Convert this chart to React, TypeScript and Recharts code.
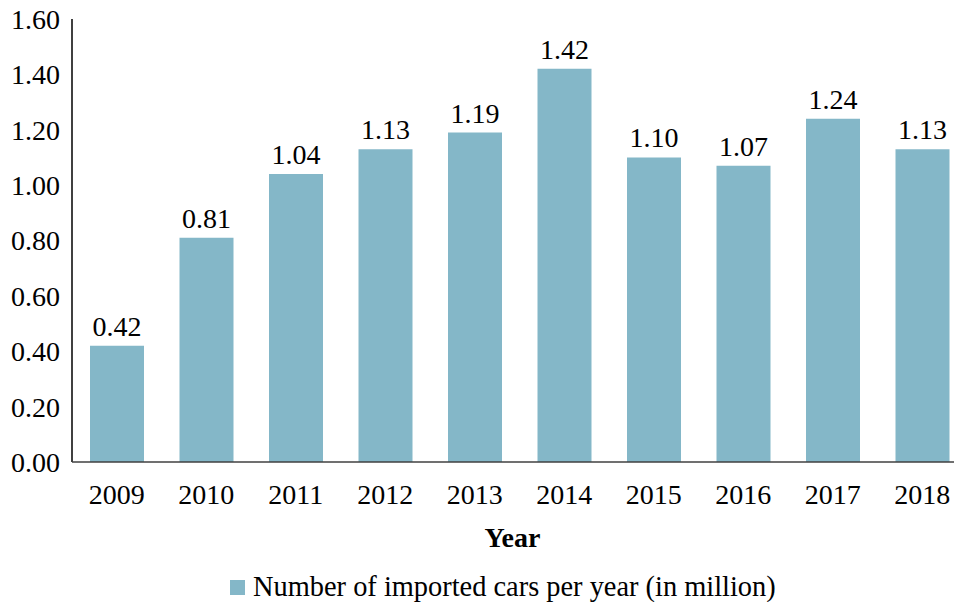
import React from 'react';
import { BarChart, Bar, XAxis, YAxis, Legend, LabelList, Label } from 'recharts';

// Imported cars per year, in million
const years = ['2009', '2010', '2011', '2012', '2013', '2014', '2015', '2016', '2017', '2018'];
const importedCars = [0.42, 0.81, 1.04, 1.13, 1.19, 1.42, 1.1, 1.07, 1.24, 1.13];
const yTicks = [0, 0.2, 0.4, 0.6, 0.8, 1.0, 1.2, 1.4, 1.6];

const SERIES_NAME = 'Number of imported cars per year (in million)';
const BAR_COLOR = '#84B7C8';
const FONT = '"Liberation Serif", "Times New Roman", serif';
const FONT_SIZE = 28;

const data = years.map((year, i) => ({ year, value: importedCars[i] }));

const fmt = (v: number) => Number(v).toFixed(2);

const LegendContent = () => (
  <div style={{ display: 'flex', alignItems: 'center', fontFamily: FONT, fontSize: 28.4, color: '#000', whiteSpace: 'nowrap' }}>
    <span style={{ display: 'inline-block', width: 15, height: 15, background: BAR_COLOR, marginRight: 8 }} />
    <span>{SERIES_NAME}</span>
  </div>
);

export default function App() {
  return (
    <div style={{ position: 'fixed', left: 0, top: 0, width: 954, height: 602, overflow: 'hidden', background: '#fff' }}>
      <BarChart
        width={980}
        height={602}
        data={data}
        margin={{ top: 19, right: 13, bottom: 28, left: 0 }}
      >
        <YAxis
          width={72}
          domain={[0, 1.6]}
          ticks={yTicks}
          tickFormatter={fmt}
          tickLine={false}
          tickSize={0}
          tickMargin={12}
          axisLine={{ stroke: '#000', strokeWidth: 1.5 }}
          tick={{ fontSize: FONT_SIZE, fill: '#000', fontFamily: FONT }}
          interval={0}
        />
        <XAxis
          dataKey="year"
          height={80}
          tickLine={false}
          tickSize={0}
          tickMargin={22}
          axisLine={{ stroke: '#404040', strokeWidth: 1.5 }}
          tick={{ fontSize: FONT_SIZE, fill: '#000', fontFamily: FONT }}
          interval={0}
        >
          <Label
            content={(props: any) => {
              const vb = props.viewBox || {};
              return (
                <text
                  x={512.5}
                  y={vb.y + 85}
                  textAnchor="middle"
                  fontFamily={FONT}
                  fontWeight="bold"
                  fontSize={FONT_SIZE}
                  fill="#000"
                >
                  Year
                </text>
              );
            }}
          />
        </XAxis>
        <Legend
          verticalAlign="bottom"
          content={<LegendContent />}
          wrapperStyle={{ left: 230, top: 571, bottom: 'auto', width: 'auto' }}
        />
        <Bar dataKey="value" name={SERIES_NAME} fill={BAR_COLOR} barSize={54} isAnimationActive={false}>
          <LabelList
            dataKey="value"
            position="top"
            offset={10}
            formatter={(v: any) => fmt(v)}
            style={{ fontSize: FONT_SIZE, fill: '#000', fontFamily: FONT }}
          />
        </Bar>
      </BarChart>
    </div>
  );
}
